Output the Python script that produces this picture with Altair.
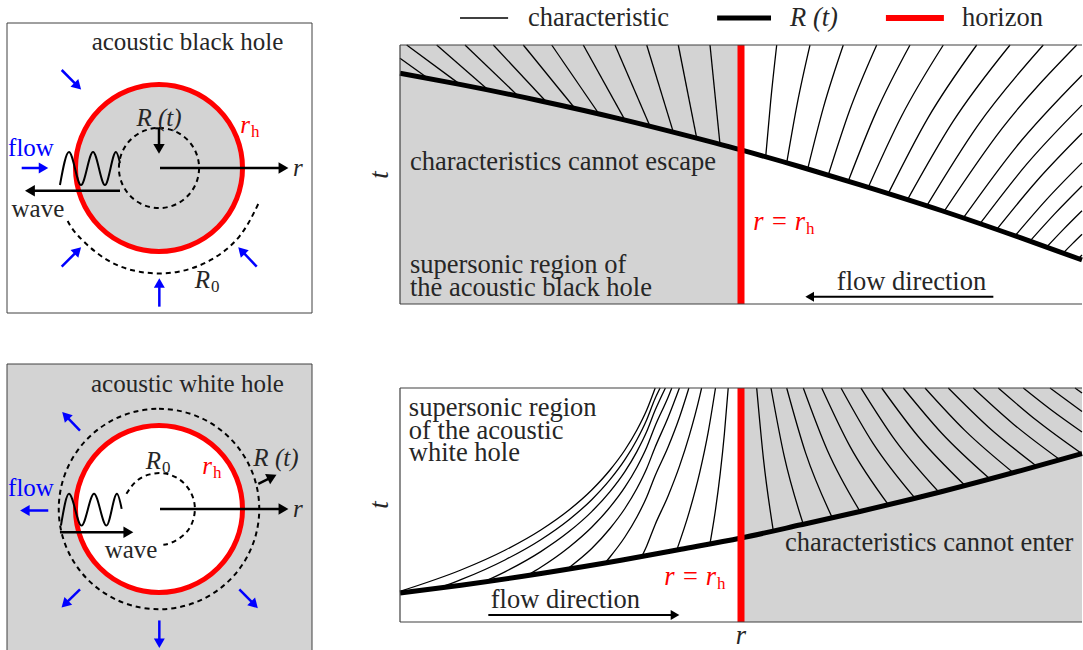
import math
import altair as alt
import pandas as pd

FONT = "Liberation Serif"
FS = 25          # sketch texts
FSP = 26.5       # r-t diagram texts
INK = "#262626"
GRAY = "#d3d3d3"
BLUE = "#0000ff"
RED = "#ff0000"
FRAME = "#404040"

# ---------------- data ----------------
# acoustic black hole, r-t diagram (r_h = 1, panel spans 0 <= r <= 2, t normalised to [0, 1])
bh_R_r = [0.0, 0.179, 0.413, 0.648, 0.824, 1.0, 1.176, 1.352, 1.587, 1.821, 2.0]
bh_R_t = [0.891, 0.847, 0.784, 0.714, 0.656, 0.595, 0.529, 0.459, 0.361, 0.255, 0.170]

bh_inner_r = [
    [0.9384, 0.9091], [0.8701, 0.8161], [0.8015, 0.7235], [0.7331, 0.6305],
    [0.6598, 0.5375], [0.5836, 0.4449], [0.5132, 0.3616], [0.4302, 0.2736],
    [0.3469, 0.1906], [0.2589, 0.1076], [0.1760, 0.0196], [0.0830, 0.0],
]
bh_inner_t = [
    [0.6166, 1.0], [0.640, 1.0], [0.6637, 1.0], [0.6861, 1.0],
    [0.7097, 1.0], [0.7336, 1.0], [0.7548, 1.0], [0.7792, 1.0],
    [0.8027, 1.0], [0.8263, 1.0], [0.8479, 1.0], [0.871, 0.9486],
]
bh_outer_r = [
    [1.0724, 1.0871, 1.1047], [1.134, 1.1648, 1.2023], [1.1956, 1.2422, 1.30],
    [1.256, 1.319, 1.398], [1.3147, 1.395, 1.4956], [1.3733, 1.4707, 1.5933],
    [1.432, 1.5463, 1.6912], [1.4883, 1.6205, 1.7889], [1.5446, 1.6947, 1.8865],
    [1.5953, 1.7657, 1.9845], [1.6519, 1.8073, 2.0], [1.7009, 1.8372, 2.0],
    [1.7499, 1.866, 2.0], [1.8035, 1.8965, 2.0], [1.8475, 1.9205, 2.0],
    [1.8965, 1.9469, 2.0], [1.9452, 1.9721, 2.0], [1.9891, 2.0],
]
bh_outer_t = [
    [0.568, 0.784, 1.0], [0.545, 0.773, 1.0], [0.522, 0.761, 1.0],
    [0.498, 0.749, 1.0], [0.475, 0.737, 1.0], [0.451, 0.725, 1.0],
    [0.427, 0.714, 1.0], [0.403, 0.702, 1.0], [0.379, 0.690, 1.0],
    [0.357, 0.678, 1.0], [0.332, 0.607, 0.883], [0.310, 0.539, 0.768],
    [0.288, 0.473, 0.659], [0.263, 0.404, 0.545], [0.243, 0.349, 0.456],
    [0.220, 0.290, 0.360], [0.197, 0.233, 0.269], [0.175, 0.189],
]

# acoustic white hole, r-t diagram
wh_R_r = [0.0, 0.1789, 0.4135, 0.6481, 0.824, 1.0, 1.176, 1.352, 1.587, 1.821, 2.0]
wh_R_t = [0.1239, 0.1573, 0.2073, 0.2637, 0.3107, 0.359, 0.4154, 0.4735, 0.5568, 0.647, 0.7201]

wh_inner_r = [
    [0.0, 0.1786, 0.3091, 0.4129, 0.4956, 0.5622, 0.6158, 0.6595, 0.6947, 0.7235, 0.7484],
    [0.1123, 0.1786, 0.3091, 0.4129, 0.4956, 0.5622, 0.6158, 0.6595, 0.6947, 0.7235, 0.7478, 0.7628],
    [0.2443, 0.3091, 0.4129, 0.4956, 0.5622, 0.6158, 0.6595, 0.6947, 0.7235, 0.7478, 0.7783],
    [0.3716, 0.4129, 0.4956, 0.5622, 0.6158, 0.6595, 0.6947, 0.7235, 0.7478, 0.7862, 0.7971],
    [0.4889, 0.5622, 0.6158, 0.6595, 0.6947, 0.7235, 0.7478, 0.7862, 0.8194],
    [0.6012, 0.6158, 0.6595, 0.6947, 0.7235, 0.7478, 0.7862, 0.8199, 0.8472],
    [0.7088, 0.7235, 0.7478, 0.7862, 0.8199, 0.8481, 0.8792, 0.8845],
    [0.8115, 0.8481, 0.8792, 0.9038, 0.9252],
    [0.9091, 0.9235, 0.939, 0.9513, 0.9625],
]
wh_inner_t = [
    [0.131, 0.2222, 0.3077, 0.3932, 0.4786, 0.5641, 0.6496, 0.735, 0.8205, 0.906, 1.0],
    [0.1444, 0.1808, 0.2662, 0.3517, 0.4372, 0.5226, 0.6081, 0.6936, 0.779, 0.8645, 0.9543, 1.0],
    [0.1705, 0.2154, 0.3009, 0.3863, 0.4718, 0.5573, 0.6427, 0.7282, 0.8137, 0.9034, 1.0],
    [0.1979, 0.2342, 0.3197, 0.4051, 0.4906, 0.5761, 0.6615, 0.747, 0.8368, 0.9607, 1.0],
    [0.2248, 0.3141, 0.3996, 0.485, 0.5705, 0.656, 0.7457, 0.8739, 1.0],
    [0.2521, 0.2778, 0.3632, 0.4487, 0.5342, 0.6239, 0.7479, 0.8761, 1.0],
    [0.2795, 0.3252, 0.4149, 0.5389, 0.6671, 0.7953, 0.9662, 1.0],
    [0.3073, 0.4697, 0.6406, 0.8115, 1.0],
    [0.3346, 0.4628, 0.6338, 0.8047, 1.0],
]
wh_outer_r = [
    [1.0947, 1.066, 1.046], [1.1827, 1.1267, 1.088], [1.2677, 1.1894, 1.134],
    [1.349, 1.2525, 1.1827], [1.432, 1.3196, 1.2367], [1.5103, 1.3868, 1.2933],
    [1.5806, 1.4519, 1.3519], [1.6569, 1.5205, 1.4126], [1.7302, 1.5894, 1.476],
    [1.7985, 1.6563, 1.5396], [1.8672, 1.7261, 1.6079], [1.9355, 1.7982, 1.6812],
    [1.9991, 1.8683, 1.7545], [2.0, 1.91, 1.8279], [2.0, 1.9062], [2.0, 1.9795],
]
wh_outer_t = [
    [0.3897, 0.6949, 1.0], [0.4175, 0.7085, 1.0], [0.4453, 0.7226, 1.0],
    [0.4726, 0.7363, 1.0], [0.5013, 0.7504, 1.0], [0.5291, 0.7645, 1.0],
    [0.5547, 0.7774, 1.0], [0.5833, 0.7915, 1.0], [0.6111, 0.8056, 1.0],
    [0.638, 0.8188, 1.0], [0.6654, 0.8325, 1.0], [0.6932, 0.8466, 1.0],
    [0.7197, 0.8598, 1.0], [0.812, 0.906, 1.0], [0.8996, 1.0], [0.9786, 1.0],
]

# sketches (unit = horizon radius r_h)
r_h = 1.0
bh_Rt_radius = 0.48
wh_Rt_radius = 1.2
bh_R0_arc_x = [1.188, 0.968, 0.632, 0.219, -0.219, -0.632, -0.968, -1.095]
bh_R0_arc_y = [-0.432, -0.812, -1.095, -1.245, -1.245, -1.095, -0.812, -0.632]
wh_R0_arc_x = [-0.390, -0.276, -0.111, 0.075, 0.247, 0.372, 0.428, 0.404, 0.304, 0.147, 0.052]
wh_R0_arc_y = [0.182, 0.329, 0.415, 0.424, 0.352, 0.215, 0.037, -0.147, -0.304, -0.404, -0.427]
bh_wave_x = [-1.186, -1.078, -0.934, -0.790, -0.647, -0.515, -0.467]
bh_wave_y = [-0.204, 0.192, -0.204, 0.192, -0.204, 0.192, 0.06]
wh_wave_x = [-1.174, -1.078, -0.928, -0.778, -0.629, -0.503, -0.447]
wh_wave_y = [-0.198, 0.182, -0.198, 0.182, -0.198, 0.182, 0.002]

bh_flow_tail = [(-1.644, 0.0), (-1.165, 1.174), (-1.165, -1.182), (0.004, -1.661), (1.17, -1.182)]
bh_flow_tip = [(-1.345, 0.0), (-0.946, 0.954), (-0.946, -0.962), (0.004, -1.341), (0.962, -0.962)]
wh_flow_tail = [(-1.326, -0.018), (-0.946, 0.94), (-0.946, -0.962), (0.004, -1.335), (0.962, -0.962)]
wh_flow_tip = [(-1.644, -0.018), (-1.146, 1.147), (-1.153, -1.168), (0.004, -1.647), (1.17, -1.174)]
bh_black_tail = [(0.012, 0.0), (-0.467, -0.272), (0.0, 0.475)]
bh_black_tip = [(1.53, 0.0), (-1.585, -0.272), (0.0, 0.19)]
wh_black_tail = [(0.012, 0.0), (-1.186, -0.278), (1.189, 0.302)]
wh_black_tip = [(1.53, 0.0), (-0.327, -0.278), (1.389, 0.401)]

# ---------------- panels ----------------
PANELS = {
    "bh_sketch": {"x": ([-1.82, 1.832], [7, 312]), "y": ([-1.737, 1.737], [313, 23])},
    "wh_sketch": {"x": ([-1.82, 1.832], [7, 312]), "y": ([-1.737, 1.737], [654, 364])},
    "bh_plot": {"x": ([0.0, 2.0], [400, 1082]), "y": ([0.0, 1.0], [304, 45])},
    "wh_plot": {"x": ([0.0, 2.0], [400, 1082]), "y": ([0.0, 1.0], [622, 388])},
}


def scale(p, axis):
    d, r = PANELS[p][axis]
    return alt.Scale(domain=d, range=r, zero=False, nice=False)


def pos(p):
    return {"x": alt.X("x:Q", scale=scale(p, "x"), axis=None),
            "y": alt.Y("y:Q", scale=scale(p, "y"), axis=None)}


def ppu(p, axis):
    d, r = PANELS[p][axis]
    return (r[1] - r[0]) / (d[1] - d[0])


layers = []


def rect(p, x0, x1, y0, y1, **mk):
    df = pd.DataFrame({"x": [x0], "x2": [x1], "y": [y0], "y2": [y1]})
    layers.append(alt.Chart(df).mark_rect(**mk).encode(**pos(p), x2="x2:Q", y2="y2:Q"))


def segments(p, x0, y0, x1, y1, **mk):
    df = pd.DataFrame({"x": x0, "y": y0, "x2": x1, "y2": y1})
    layers.append(alt.Chart(df).mark_rule(**mk).encode(**pos(p), x2="x2:Q", y2="y2:Q"))


def polylines(p, xs, ys, ordered=False, **mk):
    rows = []
    for i, (xx, yy) in enumerate(zip(xs, ys)):
        for j, (a, b) in enumerate(zip(xx, yy)):
            rows.append({"id": i, "o": j, "x": a, "y": b})
    enc = dict(**pos(p), detail="id:N")
    if ordered:
        enc["order"] = alt.Order("o:Q")
    layers.append(alt.Chart(pd.DataFrame(rows)).mark_line(**mk).encode(**enc))


def circle(p, rad, **mk):
    k = ppu(p, "x")
    df = pd.DataFrame({"x": [0.0], "y": [0.0], "rad": [rad]})
    layers.append(alt.Chart(df).mark_arc(theta=0, theta2=2 * math.pi, **mk).encode(
        **pos(p),
        radius=alt.Radius("rad:Q", scale=alt.Scale(type="linear", domain=[0, 2], range=[0, 2 * k], zero=True))))


def label(p, xs, ys, txt, **mk):
    df = pd.DataFrame({"x": xs, "y": ys, "txt": txt})
    style = dict(font=FONT, fontSize=FS, baseline="middle", color=INK)
    style.update(mk)
    layers.append(alt.Chart(df).mark_text(**style).encode(**pos(p), text="txt:N"))


def arrows(p, tails, tips, color, width, head):
    kx, ky = ppu(p, "x"), ppu(p, "y")
    h = math.sqrt(head) * math.sqrt(3) / 4
    sx0, sy0, sx1, sy1, hx, hy, ang = [], [], [], [], [], [], []
    for (x0, y0), (x1, y1) in zip(tails, tips):
        dxp, dyp = (x1 - x0) * kx, (y1 - y0) * ky
        L = math.hypot(dxp, dyp)
        ux, uy = dxp / L, dyp / L
        sx0.append(x0)
        sy0.append(y0)
        sx1.append(x1 - ux * 1.5 * h / kx)
        sy1.append(y1 - uy * 1.5 * h / ky)
        hx.append(x1 - ux * h / kx)
        hy.append(y1 - uy * h / ky)
        ang.append(math.degrees(math.atan2(ux, -uy)) % 360)
    segments(p, sx0, sy0, sx1, sy1, color=color, strokeWidth=width)
    df = pd.DataFrame({"x": hx, "y": hy, "a": ang})
    layers.append(alt.Chart(df).mark_point(shape="triangle", filled=True, size=head, color=color,
                                           opacity=1, strokeWidth=0)
                  .encode(**pos(p), angle=alt.Angle("a:Q", scale=None)))


def sub_label(p, x, y, main, sub, color, size=FS):
    label(p, [x], [y], [main], color=color, fontStyle="italic", align="right", fontSize=size)
    label(p, [x], [y], [sub], color=color, fontSize=17, align="left", dx=1, dy=7)


# ---------- black hole sketch ----------
P = "bh_sketch"
rect(P, -1.82, 1.832, -1.737, 1.737, fill="white", stroke=FRAME, strokeWidth=1)
circle(P, r_h, fill=GRAY, stroke=RED, strokeWidth=5)
circle(P, bh_Rt_radius, filled=False, stroke="black", strokeWidth=2, strokeDash=[5, 4])
polylines(P, [bh_R0_arc_x], [bh_R0_arc_y], ordered=True, interpolate="natural",
          color="black", strokeWidth=2, strokeDash=[5, 4])
polylines(P, [bh_wave_x], [bh_wave_y], interpolate="monotone", color="black", strokeWidth=2)
arrows(P, bh_black_tail, bh_black_tip, "black", 2.5, 130)
segments(P, [-0.045], [0.475], [0.045], [0.475], color="black", strokeWidth=2)
arrows(P, bh_flow_tail, bh_flow_tip, BLUE, 2.5, 120)
label(P, [0.341], [1.509], ["acoustic black hole"], align="center")
label(P, [-1.533], [0.24], ["flow"], align="center", color=BLUE)
label(P, [-1.45], [-0.49], ["wave"], align="center")
label(P, [0.0], [0.6], ["R (t)"], align="center", fontStyle="italic")
label(P, [1.605], [0.0], ["r"], align="left", fontStyle="italic")
sub_label(P, 1.09, 0.515, "r", "h", RED)
sub_label(P, 0.611, -1.341, "R", "0", INK)

# ---------- white hole sketch ----------
P = "wh_sketch"
rect(P, -1.82, 1.832, -1.737, 1.737, fill=GRAY, stroke=FRAME, strokeWidth=1)
circle(P, r_h, fill="white", stroke=RED, strokeWidth=5)
circle(P, wh_Rt_radius, filled=False, stroke="black", strokeWidth=2, strokeDash=[5, 4])
polylines(P, [wh_R0_arc_x], [wh_R0_arc_y], ordered=True, interpolate="natural",
          color="black", strokeWidth=2, strokeDash=[5, 4])
polylines(P, [wh_wave_x], [wh_wave_y], interpolate="monotone", color="black", strokeWidth=2)
arrows(P, wh_black_tail, wh_black_tip, "black", 2.5, 130)
arrows(P, wh_flow_tail, wh_flow_tip, BLUE, 2.5, 120)
label(P, [0.341], [1.503], ["acoustic white hole"], align="center")
label(P, [-1.533], [0.246], ["flow"], align="center", color=BLUE)
label(P, [-0.335], [-0.497], ["wave"], align="center")
label(P, [1.4], [0.605], ["R (t)"], align="center", fontStyle="italic")
label(P, [1.605], [0.0], ["r"], align="left", fontStyle="italic")
sub_label(P, 0.635, 0.521, "r", "h", RED)
sub_label(P, 0.024, 0.58, "R", "0", INK)

# ---------- black hole r-t diagram ----------
P = "bh_plot"
rect(P, 0.0, 1.0, 0.0, 1.0, fill=GRAY)
polylines(P, bh_inner_r, bh_inner_t, interpolate="monotone", color="black", strokeWidth=1.3)
polylines(P, bh_outer_r, bh_outer_t, interpolate="monotone", color="black", strokeWidth=1.3)
polylines(P, [bh_R_r], [bh_R_t], interpolate="monotone", color="black", strokeWidth=5)
segments(P, [1.0], [0.0], [1.0], [1.0], color=RED, strokeWidth=7)
segments(P, [0.0, 0.0, 0.0], [0.0, 1.0, 0.0], [2.0, 2.0, 0.0], [0.0, 1.0, 1.0], color=FRAME, strokeWidth=1.2)
label(P, [0.029], [0.549], ["characteristics cannot escape"], align="left", fontSize=FSP)
label(P, [0.029, 0.029], [0.151, 0.061], ["supersonic region of", "the acoustic black hole"],
      align="left", fontSize=FSP)
label(P, [1.5], [0.086], ["flow direction"], align="center", fontSize=FSP)
arrows(P, [(1.74, 0.028)], [(1.193, 0.028)], "black", 1.8, 100)
sub_label(P, 1.188, 0.318, "r = r", "h", RED, FSP)
label(P, [-0.0587], [0.498], ["t"], align="center", fontStyle="italic", angle=270, fontSize=FSP)
# legend
segments(P, [0.176], [1.104], [0.317], [1.104], color="black", strokeWidth=1.5)
segments(P, [0.930], [1.104], [1.088], [1.104], color="black", strokeWidth=5)
segments(P, [1.425], [1.104], [1.595], [1.104], color=RED, strokeWidth=6)
label(P, [0.375, 1.648], [1.104, 1.104], ["characteristic", "horizon"], align="left", fontSize=FSP)
label(P, [1.144], [1.104], ["R (t)"], align="left", fontStyle="italic", fontSize=FSP)

# ---------- white hole r-t diagram ----------
P = "wh_plot"
rect(P, 1.0, 2.0, 0.0, 1.0, fill=GRAY)
polylines(P, wh_inner_r, wh_inner_t, interpolate="monotone", color="black", strokeWidth=1.3)
polylines(P, wh_outer_r, wh_outer_t, interpolate="monotone", color="black", strokeWidth=1.3)
polylines(P, [wh_R_r], [wh_R_t], interpolate="monotone", color="black", strokeWidth=5)
segments(P, [1.0], [0.0], [1.0], [1.0], color=RED, strokeWidth=7)
segments(P, [0.0, 0.0, 0.0], [0.0, 1.0, 0.0], [2.0, 2.0, 0.0], [0.0, 1.0, 1.0], color=FRAME, strokeWidth=1.2)
label(P, [0.026, 0.026, 0.026], [0.915, 0.815, 0.722],
      ["supersonic region", "of the acoustic", "white hole"], align="left", fontSize=FSP)
label(P, [0.485], [0.094], ["flow direction"], align="center", fontSize=FSP)
arrows(P, [(0.259, 0.03)], [(0.815, 0.03)], "black", 1.8, 100)
sub_label(P, 0.927, 0.194, "r = r", "h", RED, FSP)
label(P, [1.129], [0.336], ["characteristics cannot enter"], align="left", fontSize=FSP)
label(P, [-0.0587], [0.5], ["t"], align="center", fontStyle="italic", angle=270, fontSize=FSP)
label(P, [1.0], [-0.06], ["r"], align="center", fontStyle="italic", fontSize=FSP)

chart = alt.layer(*layers).resolve_scale(x="independent", y="independent").properties(
    width=1083, height=650, autosize=alt.AutoSizeParams(type="none"), padding=0
).configure_view(strokeWidth=0)

chart.save("out.html", embed_options={"renderer": "svg", "actions": False})
